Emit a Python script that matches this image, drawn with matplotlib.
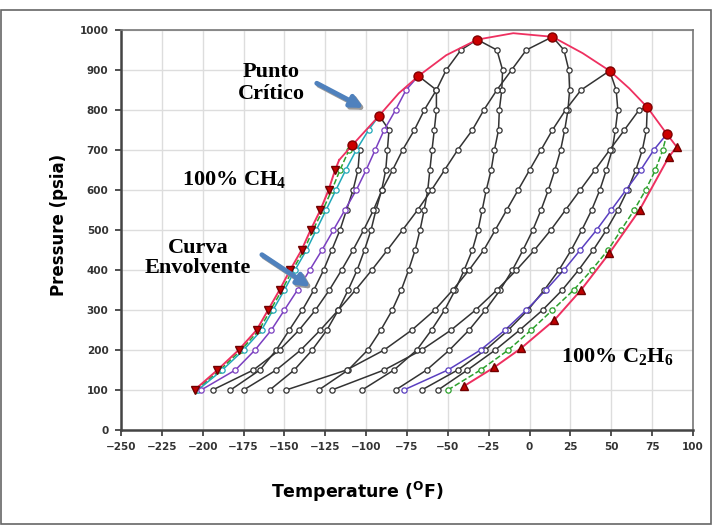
# phase envelopes of methane-ethane mixtures
import matplotlib
matplotlib.use("Agg")
import matplotlib.pyplot as plt
from matplotlib.patches import Rectangle

plt.rcParams['mathtext.fontset'] = 'custom'
plt.rcParams['mathtext.rm'] = 'Liberation Serif:bold'

# pressure levels where the points of each branch are read (psia)
p_levels = [100, 150, 200, 250, 300, 350, 400, 450, 500, 550, 600, 650, 700, 750, 800, 850, 900, 950]

# pure components
methane_T = [-205, -191, -178, -167, -160, -153, -146.5, -139.5, -134, -128, -123, -119, -116.5]
methane_P = [100, 150, 200, 250, 300, 350, 400, 450, 500, 550, 600, 650, 675]
ethane_T = [-40, -21.5, -5.3, 15.2, 31.5, 48.8, 67.3, 85.1, 90]
ethane_P = [110, 157, 204, 275, 350, 442, 550, 682, 708]

# mixtures: bubble branch, dew branch (T at p_levels) and critical point
mix_names = ['97.5', '92.5', '85', '70', '50', '30', '15', '5']
crit_T = [-108.5, -92, -68, -32, 14, 49, 72, 84]
crit_P = [712, 786, 885, 976, 983, 898, 807, 740]
bubble_T = [
    [-204, -189.5, -176.5, -165.5, -158.5, -151.5, -145, -138, -132.5, -126.5, -121, -116, -110.5],
    [-203, -188, -175, -164, -157, -150, -143.5, -136.5, -130.5, -124.5, -118.5, -112.5, -106, -98.5],
    [-201, -180, -168, -158, -150, -142, -134.5, -127, -120, -113, -106, -100, -94.5, -89, -82, -75.6],
    [-194, -169, -153, -141, -131, -122.5, -115, -108, -101.5, -95.5, -90.3, -83.8, -77.7, -70.5, -64.4, -57, -51, -42],
    [-175, -155, -140, -128, -117, -106.5, -96.5, -87, -77.7, -68.5, -60, -52, -44, -35, -28, -20, -11, -2],
    [-149, -112, -89, -72, -58, -47, -37, -28, -21, -14, -7, 0, 7, 14, 22, 31.5],
    [-121, -89, -66, -48, -33, -20, -8, 3, 13, 22, 31, 40, 49, 58, 67],
    [-77, -50, -30, -15, -2, 10, 21, 31, 41, 50, 59, 68, 76],
]
dew_T = [
    [-183, -165, -155, -147, -139, -132, -126, -121, -116, -112, -108, -105, -104],
    [-159, -144, -133, -124, -117, -111, -105.5, -101, -97, -94, -90.5, -88, -87, -86],
    [-129, -111, -99, -91, -84, -78.5, -74, -70, -67, -64.5, -62.3, -61, -59.7, -58.3, -57, -57],
    [-102.5, -83, -69, -60, -52, -45.5, -40, -35, -31.5, -29, -26.5, -23.5, -21.5, -19, -18.5, -17, -16.5, -20],
    [-82, -63, -49, -37, -27, -18, -10.5, -4, 2, 7, 11.5, 15.5, 19, 21.5, 23.5, 24.5, 24, 21],
    [-66, -44, -27, -13, -1, 9, 18, 25.5, 32, 38, 43, 47, 50.5, 52.5, 54, 53],
    [-56, -38, -21, -6, 8, 20, 30, 39, 47, 54, 60, 65, 69, 71.5],
    [-50, -30, -13, 1, 14, 27, 38, 48, 56, 64, 71, 77, 81.5],
]
bubble_colors = ['#2ca02c', '#20a8b8', '#7a3fc0', '#333333', '#333333', '#333333', '#333333', '#5a3fc0']
bubble_styles = ['--', '-', '-', '-', '-', '-', '-', '-']
dew_colors = ['#333333', '#333333', '#333333', '#333333', '#333333', '#333333', '#333333', '#2ca02c']
dew_styles = ['-', '-', '-', '-', '-', '-', '-', '--']

# critical locus (pink line over the tops)
locus_T = [-116.5, -108.5, -92, -80, -68, -51, -32, -10, 14, 32.5, 49, 61, 72, 84, 90]
locus_P = [675, 712, 786, 842, 885, 937, 976, 992, 983, 942, 898, 854, 807, 740, 708]

fig = plt.figure(figsize=(7.12, 5.25), dpi=100)
ax = fig.add_axes([121 / 712, 1 - 430 / 525, 572 / 712, 400 / 525])

for i in range(len(mix_names)):
    bt = bubble_T[i] + [crit_T[i]]
    bp = p_levels[:len(bubble_T[i])] + [crit_P[i]]
    dt = dew_T[i] + [crit_T[i]]
    dp = p_levels[:len(dew_T[i])] + [crit_P[i]]
    ax.plot(bt, bp, bubble_styles[i], color=bubble_colors[i], lw=1.1, zorder=2)
    ax.plot(bt[:-1], bp[:-1], 'o', ms=3.8, mfc='white', mec=bubble_colors[i], mew=0.9, zorder=3)
    ax.plot(dt, dp, dew_styles[i], color=dew_colors[i], lw=1.1, zorder=2)
    ax.plot(dt[:-1], dp[:-1], 'o', ms=3.8, mfc='white', mec=dew_colors[i], mew=0.9, zorder=3)

# pure component vapour pressure curves and critical locus
ax.plot(methane_T, methane_P, '-', color='#ee3060', lw=1.4, zorder=4)
ax.plot(methane_T[:-1], methane_P[:-1], 'v', ms=6, color='#c00000', mec='#700000', zorder=5)
ax.plot(ethane_T, ethane_P, '-', color='#ee3060', lw=1.4, zorder=4)
ax.plot(ethane_T, ethane_P, '^', ms=5.5, color='#c00000', mec='#700000', zorder=5)
ax.plot(locus_T, locus_P, '-', color='#ee3060', lw=1.3, zorder=4)
ax.plot(crit_T, crit_P, 'o', ms=6.5, color='#cc0000', mec='#800000', zorder=6)

ax.set_xlim(-250, 100)
ax.set_ylim(0, 1000)
ax.set_xticks(range(-250, 101, 25))
ax.set_yticks(range(0, 1001, 100))
ax.tick_params(labelsize=7.5, length=4, width=1.2, colors='#333333', pad=5)
for lab in ax.get_xticklabels() + ax.get_yticklabels():
    lab.set_fontweight('bold')
ax.grid(True, color='#dddddd', lw=1)
ax.set_axisbelow(True)
for side in ['left', 'bottom']:
    ax.spines[side].set_color('#444444')
    ax.spines[side].set_linewidth(1.8)
for side in ['top', 'right']:
    ax.spines[side].set_color('#777777')
    ax.spines[side].set_linewidth(1.2)

fig.text(59 / 712, 1 - 225 / 525, 'Pressure (psia)', rotation=90, ha='center', va='center',
         fontsize=12, fontweight='bold')
fig.text(357 / 712, 1 - 492 / 525, 'Temperature ($\\mathregular{^{O}}$F)', ha='center', va='center',
         fontsize=12.5, fontweight='bold')

# annotations
tfont = dict(family='Liberation Serif', fontweight='bold', fontsize=16)
ax.text(-158, 867, 'Punto\nCrítico', ha='center', va='center', linespacing=1.1, **tfont)
ax.text(-212.5, 625, '100% CH$\\mathregular{_4}$', ha='left', va='center', **tfont)
ax.text(-203, 430, 'Curva\nEnvolvente', ha='center', va='center', linespacing=1.05, **tfont)
ax.text(19, 183, '100% C$\\mathregular{_2}$H$\\mathregular{_6}$', ha='left', va='center', **tfont)

arrows = [((-131.7, 870), (-100, 802)), ((-165.2, 442), (-132.7, 354))]
for (tx, ty), (hx, hy) in arrows:
    ax.annotate('', xy=(hx + 1.2, hy - 5), xytext=(tx + 1.2, ty - 5),
                arrowprops=dict(arrowstyle='-|>', lw=3.5, color='#9a9a9a', mutation_scale=18), zorder=7)
    ax.annotate('', xy=(hx, hy), xytext=(tx, ty),
                arrowprops=dict(arrowstyle='-|>', lw=3.5, color='#4f81bd', mutation_scale=18), zorder=8)

fig.patches.append(Rectangle((0.001, 0.001), 0.997, 1 - 11 / 525, transform=fig.transFigure,
                             fill=False, edgecolor='#666666', lw=1.2))

fig.savefig('out.png', dpi=100)
